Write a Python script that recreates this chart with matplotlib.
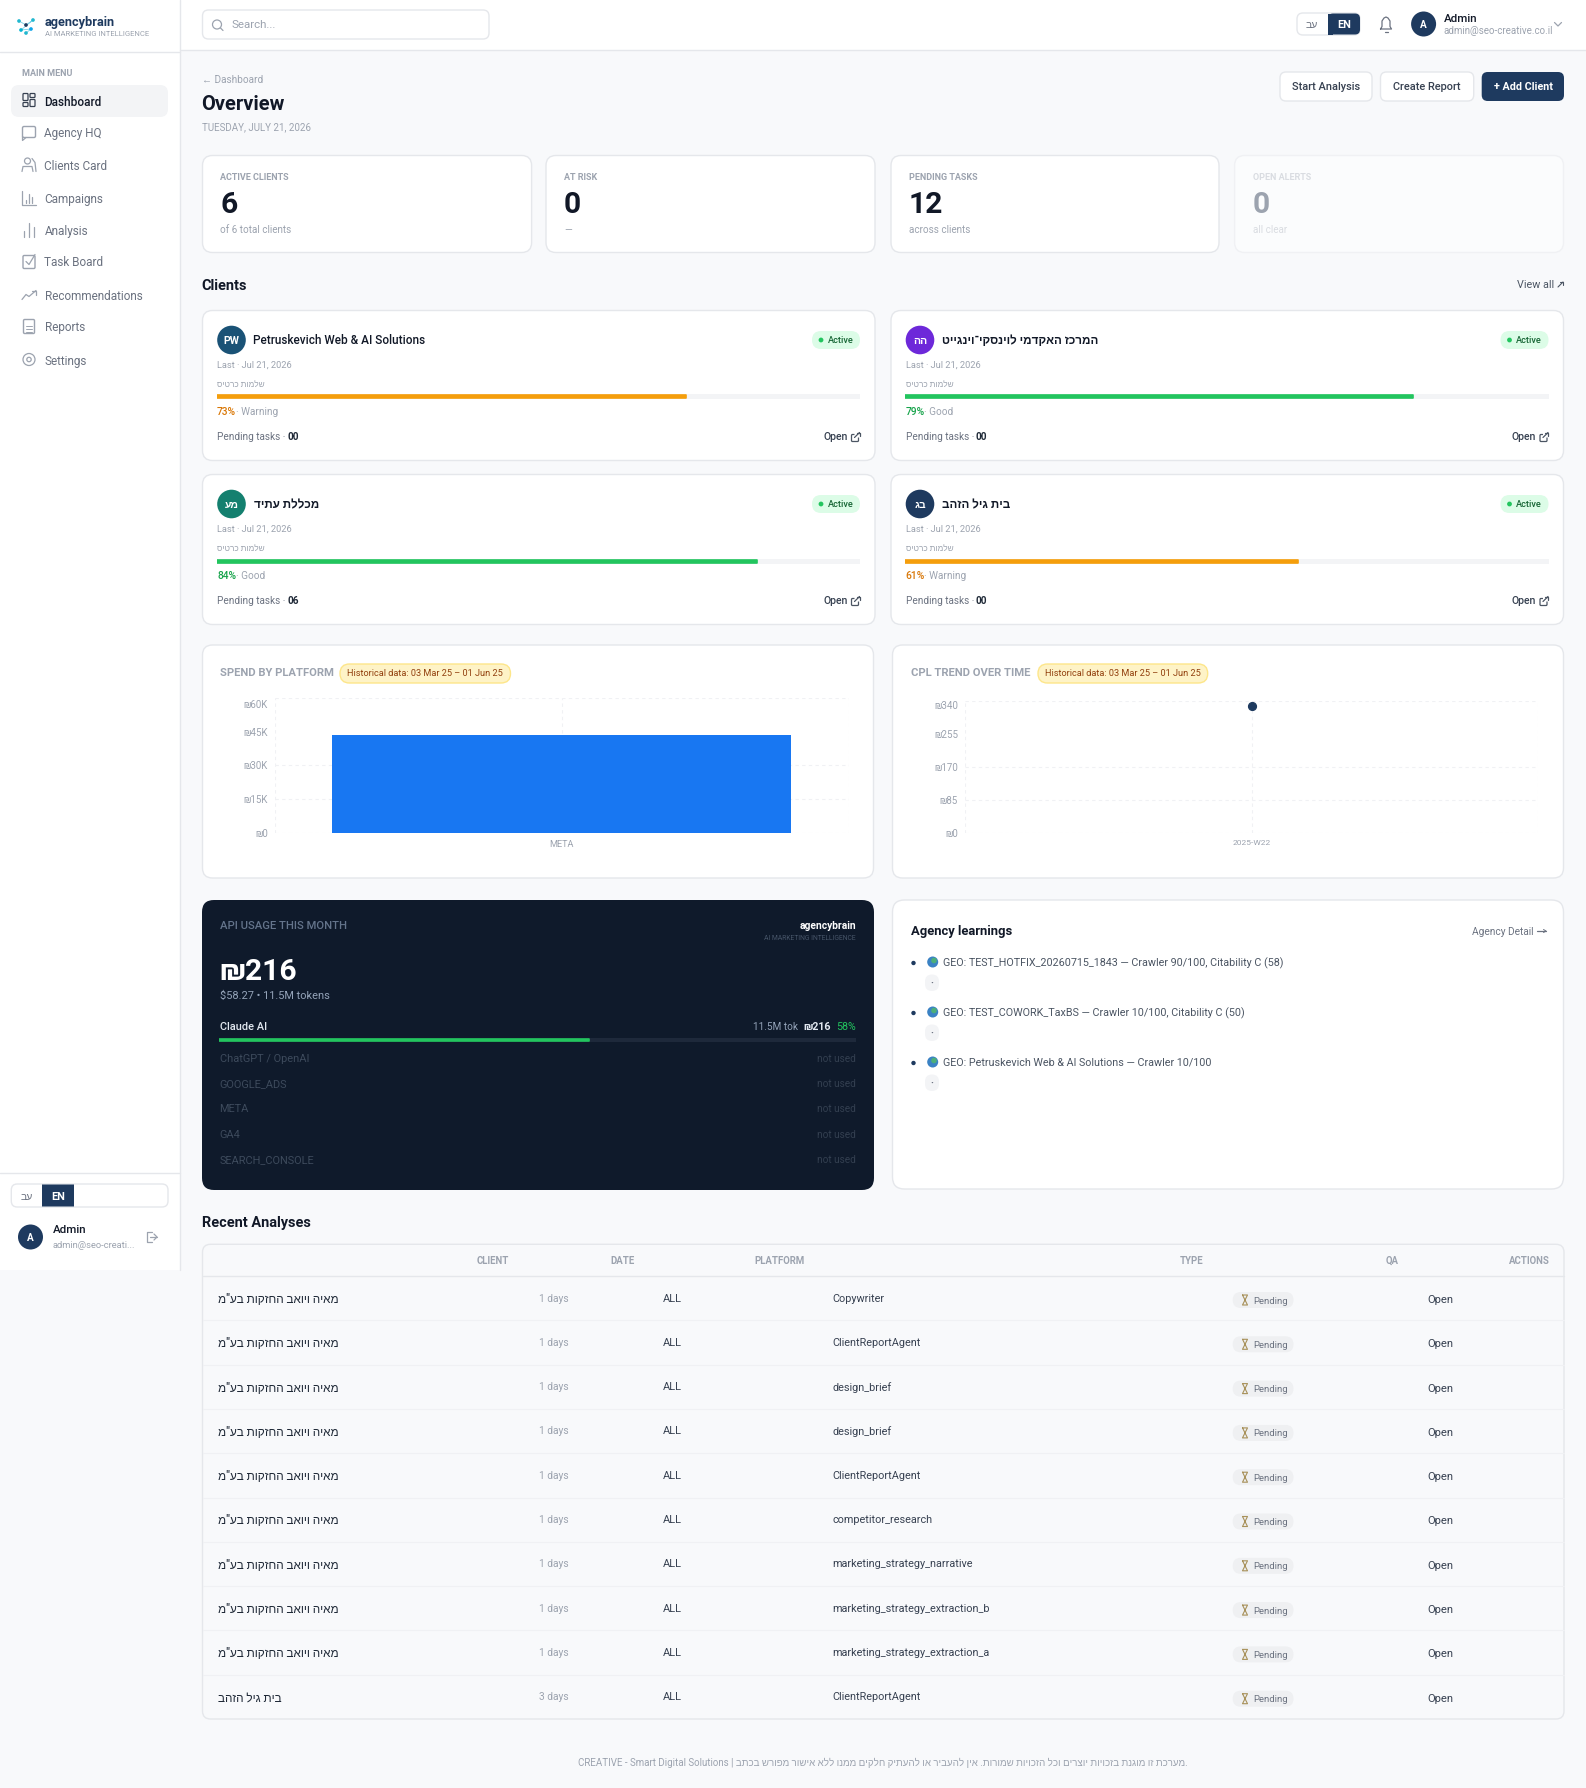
import matplotlib
matplotlib.use("Agg")
import matplotlib.pyplot as plt
from matplotlib.patches import FancyBboxPatch, Circle, Rectangle
from matplotlib.transforms import Affine2D

W, H = 1586, 1788
plt.rcParams['font.family'] = ['Roboto', 'Liberation Sans', 'DejaVu Sans']

# Colours
PAGE = '#f8f9fb'
BORDER = '#e5e7eb'
NAVY = '#1e3a5f'
INK = '#111827'
GREY = '#9ca3af'
MID = '#6b7280'
ORANGE = '#f59e0b'
GREEN = '#22c55e'
GRID = '#f0f1f4'

# Data
menu_items = ['Dashboard', 'Agency HQ', 'Clients Card', 'Campaigns', 'Analysis', 'Task Board',
              'Recommendations', 'Reports', 'Settings']
kpi_labels = ['ACTIVE CLIENTS', 'AT RISK', 'PENDING TASKS', 'OPEN ALERTS']
kpi_values = ['6', '0', '12', '0']
kpi_subs = ['of 6 total clients', '—', 'across clients', 'all clear']

client_names = ['Petruskevich Web & AI Solutions', 'המרכז האקדמי לוינסקי־וינגייט', 'מכללת עתיד', 'בית גיל הזהב']
client_initials = ['PW', 'הה', 'מע', 'בג']
client_colors = ['#1a5276', '#6d28d9', '#14806f', '#1e3a5f']
client_scores = [73, 79, 84, 61]
client_status = ['Warning', 'Good', 'Good', 'Warning']
client_tasks = ['00', '00', '06', '00']

platforms = ['META']
platform_spend = [43500]
spend_ticks = [0, 15000, 30000, 45000, 60000]
cpl_weeks = ['2025-W22']
cpl_values = [327]
cpl_ticks = [0, 85, 170, 255, 340]

api_share = 58
api_unused = ['ChatGPT / OpenAI', 'GOOGLE_ADS', 'META', 'GA4', 'SEARCH_CONSOLE']
learnings = ['GEO: TEST_HOTFIX_20260715_1843 — Crawler 90/100, Citability C (58)',
             'GEO: TEST_COWORK_TaxBS — Crawler 10/100, Citability C (50)',
             'GEO: Petruskevich Web & AI Solutions — Crawler 10/100']

table_headers = ['CLIENT', 'DATE', 'PLATFORM', 'TYPE', 'QA', 'ACTIONS']
analysis_clients = ['מאיה ויואב החזקות בע"מ'] * 9 + ['בית גיל הזהב']
analysis_days = ['1 days'] * 9 + ['3 days']
analysis_types = ['Copywriter', 'ClientReportAgent', 'design_brief', 'design_brief', 'ClientReportAgent',
                  'competitor_research', 'marketing_strategy_narrative', 'marketing_strategy_extraction_b',
                  'marketing_strategy_extraction_a', 'ClientReportAgent']
footer_he = '.מערכת זו מוגנת בזכויות יוצרים וכל הזכויות שמורות. אין להעביר או להעתיק חלקים ממנו ללא אישור מפורש בכתב'

fig = plt.figure(figsize=(W / 100, H / 100), dpi=100, facecolor=PAGE)
ax = fig.add_axes([0, 0, 1, 1])
ax.set_xlim(0, W)
ax.set_ylim(H, 0)
ax.axis('off')


def he(s):
    # matplotlib has no bidi, so Hebrew goes in visual order
    return s[::-1]


def box(x0, y0, x1, y1, r=0, fc='white', ec='none', lw=1.0, z=1):
    ax.add_patch(FancyBboxPatch((x0, y0), x1 - x0, y1 - y0, boxstyle=f'round,pad=0,rounding_size={r}',
                                fc=fc, ec=ec, lw=lw, zorder=z))


def txt(x, y, s, px=12, color=INK, weight='normal', ha='left', z=5):
    ax.text(x, y, s, fontsize=px * 0.72, color=color, fontweight=weight, ha=ha, va='center_baseline', zorder=z)


def line(xs, ys, color=GREY, lw=0.9, z=4):
    ax.plot(xs, ys, color=color, lw=lw, zorder=z, solid_capstyle='round', solid_joinstyle='round')


def px_axes(x0, y0, x1, y1):
    a = fig.add_axes([x0 / W, 1 - y1 / H, (x1 - x0) / W, (y1 - y0) / H])
    a.patch.set_alpha(0)
    return a


def progress(x0, x1, y, h, value, color, track):
    a = px_axes(x0, y - h / 2, x1, y + h / 2)
    a.barh(0, 100, height=1, color=track)
    a.barh(0, value, height=0.6, color=color, edgecolor=color, lw=1.2, joinstyle='round')
    a.set_xlim(0, 100)
    a.set_ylim(-0.5, 0.5)
    a.axis('off')


def menu_icon(i, x, y):
    c = '#9ca3af'
    if i == 0:
        for dx, dy, h in [(-6, -7, 7), (1, -7, 4), (-6, 2, 4), (1, -1, 7)]:
            box(x + dx, y + dy, x + dx + 5, y + dy + h, 0.8, fc='none', ec='#374151', lw=0.9, z=4)
    elif i == 1:
        box(x - 6.5, y - 6, x + 6.5, y + 5, 1.5, fc='none', ec=c, z=4)
        line([x - 6.5, x - 6.5, x - 3], [y + 4, y + 8, y + 5], c)
    elif i == 2:
        ax.add_patch(Circle((x - 1.5, y - 3.5), 3, fc='none', ec=c, lw=0.9, zorder=4))
        line([x - 7, x - 6, x + 3, x + 4], [y + 7, y + 2, y + 2, y + 7], c)
        line([x + 3, x + 6, x + 7], [y - 6, y - 2, y + 7], c)
    elif i == 3:
        line([x - 7, x - 7, x + 7], [y - 7, y + 7, y + 7], c)
        for dx, t in [(-3, 2), (0, -4), (3, -1)]:
            line([x + dx, x + dx], [y + 5, y + t], c)
    elif i == 4:
        for dx, t in [(-5, 1), (0, -7), (5, -3)]:
            line([x + dx, x + dx], [y + 7, y + t], c)
    elif i == 5:
        box(x - 6, y - 6, x + 6, y + 7, 1.2, fc='none', ec=c, z=4)
        line([x - 3, x, x + 6], [y, y + 3, y - 7], c)
    elif i == 6:
        line([x - 7, x - 3, x, x + 7], [y + 5, y, y + 2, y - 4], c)
        line([x + 3, x + 7, x + 7], [y - 4, y - 4, y], c)
    elif i == 7:
        box(x - 5.5, y - 7, x + 5.5, y + 7, 1.2, fc='none', ec=c, z=4)
        for dy in [-1, 2, 5]:
            line([x - 3, x + 3], [y + dy, y + dy], c, lw=0.7)
    else:
        ax.add_patch(Circle((x, y), 6, fc='none', ec=c, lw=0.9, zorder=4))
        ax.add_patch(Circle((x, y), 2.2, fc='none', ec=c, lw=0.9, zorder=4))


def open_icon(x, y):
    box(x - 3.5, y - 2.5, x + 3.5, y + 4.5, 1, fc='none', ec='#4b5563', lw=0.9, z=4)
    box(x - 0.5, y - 5, x + 5, y + 0.5, 0, fc='white', ec='none', z=4)
    line([x - 0.5, x + 4.5], [y + 0.5, y - 4.5], '#4b5563', z=5)
    line([x + 1.5, x + 4.5, x + 4.5], [y - 4.5, y - 4.5, y - 1.5], '#4b5563', z=5)


def lang_toggle(x0, x1, y0, y1, en0, en1, he_x, r=0):
    box(x0, y0, x1, y1, 6, fc='white', ec=BORDER)
    box(en0, y0 + 0.5, en1, y1 - 0.5, r, fc=NAVY, z=2)
    if r:
        ax.add_patch(Rectangle((en0, y0 + 0.5), r, y1 - y0 - 1, fc=NAVY, ec='none', zorder=2))
    txt(he_x, (y0 + y1) / 2, he('עב'), 10.5, MID, ha='center')
    txt((en0 + en1) / 2, (y0 + y1) / 2, 'EN', 11, 'white', 'bold', ha='center')


# Sidebar and header
ax.add_patch(Rectangle((0, 0), 180, 1270, fc='white', ec='none', zorder=1))
ax.add_patch(Rectangle((180, 0), W - 180, 50, fc='white', ec='none', zorder=1))
line([180, 180], [0, 1270], BORDER, 1.0, 2)
line([180, W], [50, 50], BORDER, 1.0, 2)
line([0, 180], [52, 52], BORDER, 1.0, 2)
line([0, 180], [1173, 1173], BORDER, 1.0, 2)

logo_x = [19, 26, 33, 21, 31, 26]
logo_y = [21, 25, 20, 30, 29, 33]
ax.plot(logo_x, logo_y, color='#7dd3e8', lw=0.6, zorder=3)
ax.scatter(logo_x, logo_y, s=7, c=['#22b8cf', '#1e3a5f', '#22b8cf', '#06b6d4', '#0ea5e9', '#22b8cf'], zorder=4, lw=0)
txt(45, 21, 'agencybrain', 12.8, NAVY, 'bold')
txt(45, 33, 'AI MARKETING INTELLIGENCE', 7.6, GREY)
txt(21.5, 73, 'MAIN MENU', 9, GREY, 'bold')
box(11, 85, 168, 117, 8, fc='#f3f4f6')
menu_y = [100.5, 132.5, 164.5, 197.5, 229.5, 261.5, 294.5, 326.5, 359.5]
for i, (item, y) in enumerate(zip(menu_items, menu_y)):
    txt(44.5, y, item, 11.8, '#111827' if i == 0 else MID, 'medium' if i == 0 else 'normal')
    menu_icon(i, 29, y)

lang_toggle(11.3, 168, 1184, 1207, 42, 74, 27)
ax.add_patch(Circle((30.5, 1237), 12.5, fc=NAVY, zorder=3))
txt(30.5, 1237, 'A', 10, 'white', 'bold', ha='center')
txt(52.7, 1229, 'Admin', 11.5, INK, 'medium')
txt(52.7, 1245, 'admin@seo-creati...', 9.4, GREY)
line([152, 147, 147, 152], [1232, 1232, 1242, 1242], GREY)
line([150, 157], [1237, 1237], GREY)
line([154, 157, 154], [1234, 1237, 1240], GREY)

box(202.5, 10, 489, 39, 6, fc='white', ec=BORDER)
ax.add_patch(Circle((217, 24.5), 4.5, fc='none', ec=GREY, lw=0.9, zorder=3))
line([220.5, 223], [28, 30.5], GREY)
txt(231, 24, 'Search...', 11.5, GREY)

lang_toggle(1297, 1360, 13, 35, 1328, 1360, 1312, r=5)
line([1380.5, 1382, 1382, 1384, 1386, 1388, 1390, 1390, 1391.5, 1380.5],
     [29, 26.5, 21, 18, 17, 18, 21, 26.5, 29, 29], MID)
line([1384.5, 1387.5], [31.5, 31.5], MID)
ax.add_patch(Circle((1423.6, 24), 12.5, fc=NAVY, zorder=3))
txt(1423.6, 24, 'A', 10, 'white', 'bold', ha='center')
txt(1443.6, 18, 'Admin', 11.5, INK, 'medium')
txt(1443.6, 30, 'admin@seo-creative.co.il', 9.8, GREY)
line([1554.5, 1558, 1561.5], [22.5, 26, 22.5], GREY)

# Page heading
txt(201.5, 79, '← Dashboard', 10, GREY)
txt(201.5, 103, 'Overview', 20, INK, 'bold')
txt(201.5, 126, 'TUESDAY, JULY 21, 2026', 9.8, GREY)
box(1280, 72, 1372, 101, 6, fc='white', ec=BORDER)
txt(1326, 85.5, 'Start Analysis', 11, '#374151', 'medium', ha='center')
box(1380.5, 72, 1473.7, 101, 6, fc='white', ec=BORDER)
txt(1427, 85.5, 'Create Report', 11, '#374151', 'medium', ha='center')
box(1481.7, 72, 1564, 101, 6, fc=NAVY)
txt(1523, 85.5, '+ Add Client', 10.8, 'white', 'bold', ha='center')

# KPI cards
kpi_x0 = [202.5, 546, 891, 1234.6]
kpi_x1 = [531.6, 875, 1219, 1563.5]
for i in range(4):
    faded = i == 3
    box(kpi_x0[i], 155.5, kpi_x1[i], 252.5, 10, fc='#fbfcfd' if faded else 'white', ec='#f0f1f4' if faded else BORDER)
    x = kpi_x0[i] + 18
    txt(x, 176, kpi_labels[i], 9, '#d9dce1' if faded else GREY, 'bold')
    txt(x, 202, kpi_values[i], 30, GREY if faded else INK, 'bold')
    txt(x, 229, kpi_subs[i], 9.9, '#d9dce1' if faded else GREY)

txt(201.5, 284, 'Clients', 14.5, INK, 'bold')
txt(1554, 284, 'View all', 10.8, '#4b5563', ha='right')
line([1558, 1563], [287, 282], '#4b5563', 0.8)
line([1560, 1563, 1563], [282, 282, 285], '#4b5563', 0.8)

# Client cards
card_x0 = [202.5, 891, 202.5, 891]
card_x1 = [875, 1563.5, 875, 1563.5]
card_y0 = [310.5, 310.5, 474.5, 474.5]
for i in range(4):
    x0, x1, y0 = card_x0[i], card_x1[i], card_y0[i]
    hebrew = i > 0
    box(x0, y0, x1, y0 + 150, 10, fc='white', ec=BORDER)
    ax.add_patch(Circle((x0 + 29, y0 + 29.5), 14.3, fc=client_colors[i], zorder=3))
    txt(x0 + 29, y0 + 29.5, he(client_initials[i]) if hebrew else client_initials[i], 10.5, 'white', 'bold', ha='center')
    if hebrew:
        txt(x0 + 51, y0 + 28.5, he(client_names[i]), 11.6, INK, 'bold')
    else:
        txt(x0 + 50.5, y0 + 28.5, client_names[i], 11.8, INK, 'medium')
    box(x1 - 63, y0 + 20.5, x1 - 15, y0 + 38.5, 9, fc='#dcfce7', z=2)
    ax.add_patch(Circle((x1 - 54, y0 + 29.5), 2.4, fc=GREEN, zorder=3))
    txt(x1 - 47.5, y0 + 29, 'Active', 9.2, '#166534', 'medium')
    txt(x0 + 14.5, y0 + 53.5, 'Last · Jul 21, 2026', 9.3, GREY)
    txt(x0 + 14.5, y0 + 73.5, he('שלמות כרטיס'), 8.3, GREY)
    color = ORANGE if client_status[i] == 'Warning' else GREEN
    progress(x0 + 14.5, x1 - 15, y0 + 86.5, 5, client_scores[i], color, '#f3f4f6')
    pct_color = '#d97706' if client_status[i] == 'Warning' else '#16a34a'
    txt(x0 + 14.5, y0 + 100.5, f'{client_scores[i]}%', 10.2, pct_color, 'medium')
    txt(x0 + 33.5, y0 + 100.5, f'· {client_status[i]}', 10, GREY)
    txt(x0 + 14.5, y0 + 125.5, 'Pending tasks ·', 10, MID)
    txt(x0 + 85, y0 + 125.5, client_tasks[i], 10, '#1f2937', 'bold')
    txt(x1 - 52, y0 + 125.5, 'Open', 10.5, '#374151', 'medium')
    open_icon(x1 - 20, y0 + 126.5)

# Chart cards
for x0, x1, title, pill0, pill1, tx in [(202.5, 873.5, 'SPEND BY PLATFORM', 340, 510.5, 220),
                                         (892.5, 1563.5, 'CPL TREND OVER TIME', 1038, 1207.7, 911)]:
    box(x0, 645, x1, 878, 10, fc='white', ec=BORDER)
    txt(tx, 672.5, title, 11.2, GREY, 'bold')
    box(pill0, 664, pill1, 683, 9.5, fc='#fef3c7', ec='#fde68a', z=2)
    txt((pill0 + pill1) / 2, 673, 'Historical data: 03 Mar 25 – 01 Jun 25', 9.1, '#92400e', ha='center')


def style_chart(a, yticks, labels, xsize, top_shift):
    a.set_yticks(yticks)
    a.set_yticklabels(labels, fontsize=7, color=GREY)
    a.tick_params(length=0, pad=5)
    a.tick_params(axis='x', labelsize=xsize, labelcolor=GREY, pad=5)
    a.grid(True, color=GRID, ls=(0, (3, 3)), lw=0.8)
    a.set_axisbelow(True)
    for s in a.spines.values():
        s.set_visible(False)
    # the reference leaves out the grid line just below the top
    a.yaxis.get_gridlines()[3].set_visible(False)
    top = a.yaxis.get_ticklabels()[-1]
    top.set_verticalalignment('top')
    top.set_transform(top.get_transform() + Affine2D().translate(0, -top_shift))


bar_ax = px_axes(275, 698, 848.5, 833)
bar_ax.bar(platforms, platform_spend, width=0.8, color='#1877f2', zorder=3)
bar_ax.set_xlim(-0.5, 0.5)
bar_ax.set_ylim(0, 60000)
style_chart(bar_ax, spend_ticks, ['₪%dK' % (v // 1000) if v else '₪0' for v in spend_ticks], 6.6, 2)
bar_ax.vlines([-0.5, 0.5], 0, 60000, color=GRID, ls=(0, (3, 3)), lw=0.8, zorder=1)

cpl_ax = px_axes(965, 701, 1538.5, 833)
cpl_ax.plot(cpl_weeks, cpl_values, marker='o', ms=5.6, color=NAVY, lw=0, clip_on=False, zorder=3)
cpl_ax.set_xlim(-0.5, 0.5)
cpl_ax.set_ylim(0, 340)
style_chart(cpl_ax, cpl_ticks, ['₪%d' % v for v in cpl_ticks], 6, 0)
cpl_ax.vlines([-0.5, 0.5], 0, 340, color=GRID, ls=(0, (3, 3)), lw=0.8, zorder=1)

# API usage card
box(202, 900, 874, 1190, 12, fc='#0f1a2b')
txt(219.5, 925, 'API USAGE THIS MONTH', 11.2, '#64748b', 'medium')
txt(856, 925, 'agencybrain', 10.2, 'white', 'bold', ha='right')
txt(856, 937, 'AI MARKETING INTELLIGENCE', 6.8, '#475569', ha='right')
txt(219.5, 969, '₪216', 30, 'white', 'bold')
txt(219.5, 995, '$58.27 • 11.5M tokens', 11, '#94a3b8')
txt(219.5, 1026, 'Claude AI', 11, '#e2e8f0', 'medium')
txt(798, 1026, '11.5M tok', 10, '#94a3b8', ha='right')
txt(830.5, 1026, '₪216', 10.6, '#e2e8f0', 'bold', ha='right')
txt(856, 1026, f'{api_share}%', 10.6, GREEN, ha='right')
progress(219.5, 856, 1040, 4, api_share, GREEN, '#1e293b')
for name, y in zip(api_unused, [1058, 1083, 1108, 1134, 1159]):
    txt(219.5, y, name, 11, '#3d4a5c')
    txt(856, y, 'not used', 10, '#333f50', ha='right')

# Agency learnings card
box(892.5, 900, 1563.5, 1189, 12, fc='white', ec=BORDER)
txt(911, 930, 'Agency learnings', 13, INK, 'bold')
txt(1534, 931, 'Agency Detail', 10.1, MID, ha='right')
line([1537, 1546], [931, 931], MID)
line([1543.5, 1546, 1543.5], [929.5, 931, 932.5], MID, 0.7)
for note, y in zip(learnings, [963, 1013, 1063]):
    ax.add_patch(Circle((913.5, y), 2.2, fc=NAVY, zorder=3))
    ax.add_patch(Circle((932.7, y - 1), 5.5, fc='#3b82c4', zorder=3))
    ax.add_patch(Circle((934, y - 2.5), 2.8, fc='#4caf7a', zorder=4))
    txt(943, y - 1.5, note, 10.8, '#4b5563')
    box(925, y + 11.5, 939, y + 28, 7, fc='#f3f4f6')
    txt(932, y + 19, '·', 10, MID, 'bold', ha='center')

# Recent analyses table
txt(201.6, 1221, 'Recent Analyses', 14.5, INK, 'bold')
box(202.5, 1244.3, 1564, 1719, 8, fc='none', ec=BORDER)
line([202.5, 1564], [1276, 1276], BORDER, 1.0, 2)
for h, x in zip(table_headers, [477, 610.5, 754, 1179.5, 1386, 1509]):
    txt(x, 1260, h, 9.6, GREY, 'bold')
for i in range(len(analysis_clients)):
    y = 1298 + 44.3 * i
    if i:
        line([203, 1563.5], [y - 22, y - 22], GRID, 0.8, 2)
    txt(217.7, y, he(analysis_clients[i]), 11.7, '#1f2937', 'medium')
    txt(539, y - 0.5, analysis_days[i], 10.2, GREY)
    txt(663, y - 0.5, 'ALL', 11, '#374151')
    txt(832.4, y - 0.5, analysis_types[i], 10.9, '#374151')
    box(1232.7, y - 6, 1293.5, y + 10, 8, fc='#eff0f2')
    line([1242.5, 1247.5, 1242.5, 1247.5, 1242.5], [y - 3, y - 3, y + 7, y + 7, y - 3], '#a8915a', 0.8)
    txt(1253.5, y + 2, 'Pending', 9.5, MID)
    txt(1427.7, y + 1, 'Open', 11.3, '#374151')

txt(883, 1762, 'CREATIVE - Smart Digital Solutions | ' + he(footer_he), 9.8, GREY, ha='center')

fig.savefig('out.png', dpi=100, facecolor=PAGE)
